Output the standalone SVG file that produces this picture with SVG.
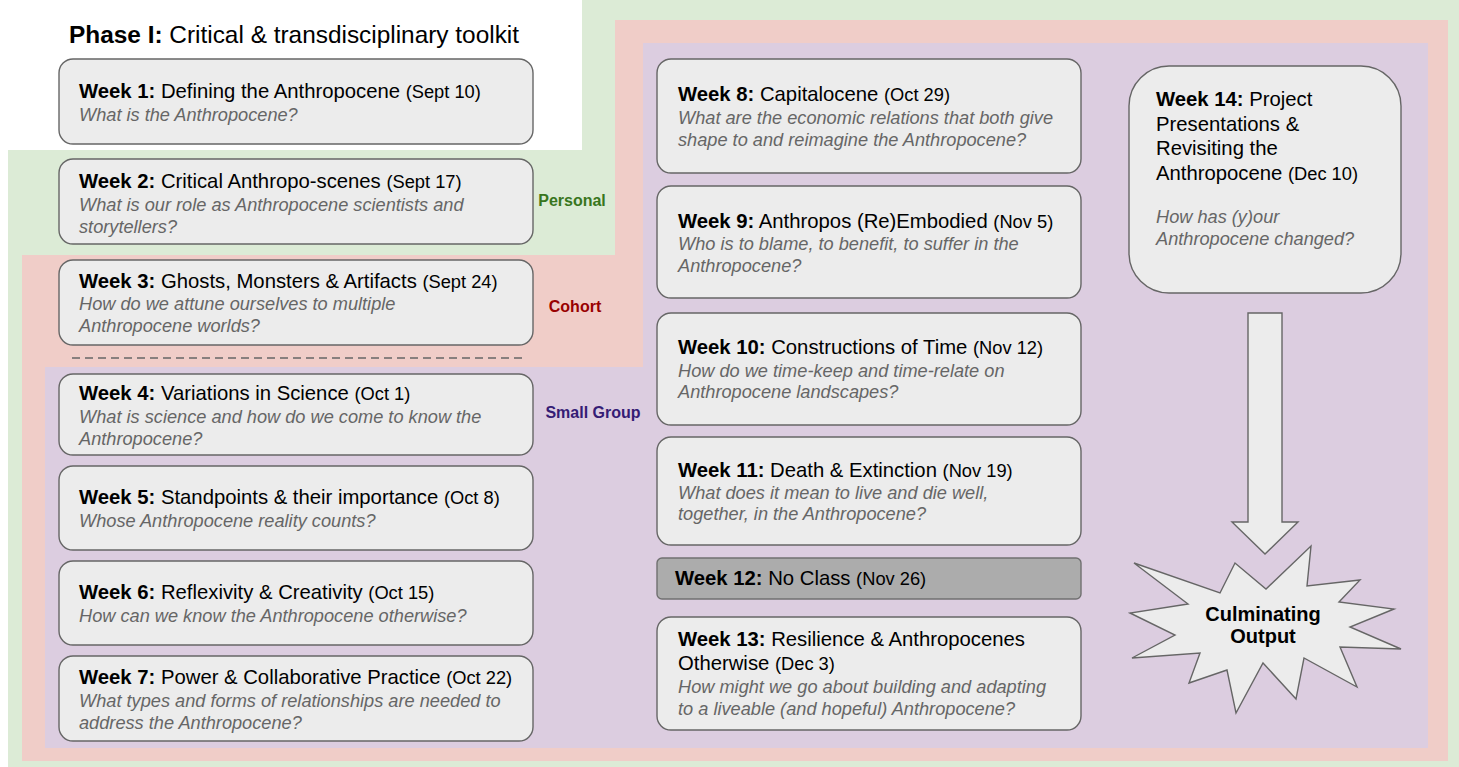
<svg xmlns="http://www.w3.org/2000/svg" width="1459" height="767" viewBox="0 0 1459 767">
<style>
text{font-family:"Liberation Sans",Arial,sans-serif;}
.box{fill:#ececec;stroke:#666;stroke-width:1.4;}
.gray{fill:#acacac;stroke:#707070;stroke-width:1.4;}
.t{font-size:20.3px;fill:#000;}
.b{font-weight:bold;}
.d{font-size:18.3px;}
.q{font-size:18.2px;font-style:italic;fill:#666;}
.lab{font-size:16px;font-weight:bold;text-anchor:middle;}
</style>
<rect width="1459" height="767" fill="#fff"/>
<g id="backgrounds">
<path d="M582,0 H1459 V767 H8 V150 H582 Z" fill="#dcebd6"/>
<path d="M615,20 H1448 V761 H22 V255 H615 Z" fill="#f0cdc8"/>
<path d="M643,43 H1428 V748 H45 V367 H643 Z" fill="#dccde0"/>
</g>
<text x="69" y="43" style="font-size:24.4px">
<tspan class="b">Phase I:</tspan> Critical &amp; transdisciplinary toolkit</text>
<g id="labels">
<text class="lab" x="572" y="206" fill="#38761d">Personal</text>
<text class="lab" x="575" y="312" fill="#990000">Cohort</text>
<text class="lab" x="593" y="418" fill="#351c75">Small Group</text>
</g>
<g id="connectors">
<path d="M72,358 H522" stroke="#666" stroke-width="1.5" stroke-dasharray="8,5" fill="none"/>
<polygon points="1248,313 1282,313 1282,522 1298,522 1265,554 1232,522 1248,522" fill="#ececec" stroke="#666" stroke-width="1.4"/>
</g>
<g id="week1">
<rect class="box" x="59" y="59" width="474" height="85" rx="14"/>
<text class="t" x="79" y="98"><tspan class="b">Week 1:</tspan> Defining the Anthropocene <tspan class="d">(Sept 10)</tspan></text>
<text class="q" x="79" y="121">What is the Anthropocene?</text>
</g>
<g id="week2">
<rect class="box" x="59" y="159" width="474" height="85" rx="14"/>
<text class="t" x="79" y="188"><tspan class="b">Week 2:</tspan> Critical Anthropo-scenes <tspan class="d">(Sept 17)</tspan></text>
<text class="q" x="79" y="211">What is our role as Anthropocene scientists and</text>
<text class="q" x="79" y="233">storytellers?</text>
</g>
<g id="week3">
<rect class="box" x="59" y="260" width="474" height="85" rx="14"/>
<text class="t" x="79" y="288"><tspan class="b">Week 3:</tspan> Ghosts, Monsters &amp; Artifacts <tspan class="d">(Sept 24)</tspan></text>
<text class="q" x="79" y="310">How do we attune ourselves to multiple</text>
<text class="q" x="79" y="332">Anthropocene worlds?</text>
</g>
<g id="week4">
<rect class="box" x="59" y="374" width="474" height="81" rx="14"/>
<text class="t" x="79" y="400"><tspan class="b">Week 4:</tspan> Variations in Science <tspan class="d">(Oct 1)</tspan></text>
<text class="q" x="79" y="423">What is science and how do we come to know the</text>
<text class="q" x="79" y="445">Anthropocene?</text>
</g>
<g id="week5">
<rect class="box" x="59" y="466" width="474" height="84" rx="14"/>
<text class="t" x="79" y="504"><tspan class="b">Week 5:</tspan> Standpoints &amp; their importance <tspan class="d">(Oct 8)</tspan></text>
<text class="q" x="79" y="527">Whose Anthropocene reality counts?</text>
</g>
<g id="week6">
<rect class="box" x="59" y="561" width="474" height="84" rx="14"/>
<text class="t" x="79" y="599"><tspan class="b">Week 6:</tspan> Reflexivity &amp; Creativity <tspan class="d">(Oct 15)</tspan></text>
<text class="q" x="79" y="622">How can we know the Anthropocene otherwise?</text>
</g>
<g id="week7">
<rect class="box" x="59" y="656" width="474" height="85" rx="14"/>
<text class="t" x="79" y="684"><tspan class="b">Week 7:</tspan> Power &amp; Collaborative Practice <tspan class="d">(Oct 22)</tspan></text>
<text class="q" x="79" y="707">What types and forms of relationships are needed to</text>
<text class="q" x="79" y="729">address the Anthropocene?</text>
</g>
<g id="week8">
<rect class="box" x="657" y="59" width="424" height="114" rx="14"/>
<text class="t" x="678" y="101"><tspan class="b">Week 8:</tspan> Capitalocene <tspan class="d">(Oct 29)</tspan></text>
<text class="q" x="678" y="124">What are the economic relations that both give</text>
<text class="q" x="678" y="146">shape to and reimagine the Anthropocene?</text>
</g>
<g id="week9">
<rect class="box" x="657" y="186" width="424" height="112" rx="14"/>
<text class="t" x="678" y="228"><tspan class="b">Week 9:</tspan> Anthropos (Re)Embodied <tspan class="d">(Nov 5)</tspan></text>
<text class="q" x="678" y="250">Who is to blame, to benefit, to suffer in the</text>
<text class="q" x="678" y="272">Anthropocene?</text>
</g>
<g id="week10">
<rect class="box" x="657" y="313" width="424" height="112" rx="14"/>
<text class="t" x="678" y="354"><tspan class="b">Week 10:</tspan> Constructions of Time <tspan class="d">(Nov 12)</tspan></text>
<text class="q" x="678" y="377">How do we time-keep and time-relate on</text>
<text class="q" x="678" y="398">Anthropocene landscapes?</text>
</g>
<g id="week11">
<rect class="box" x="657" y="437" width="424" height="108" rx="14"/>
<text class="t" x="678" y="477"><tspan class="b">Week 11:</tspan> Death &amp; Extinction <tspan class="d">(Nov 19)</tspan></text>
<text class="q" x="678" y="499">What does it mean to live and die well,</text>
<text class="q" x="678" y="520">together, in the Anthropocene?</text>
</g>
<g id="week12">
<rect class="gray" x="657" y="558" width="424" height="41" rx="5"/>
<text class="t" x="675" y="585"><tspan class="b">Week 12:</tspan> No Class <tspan class="d">(Nov 26)</tspan></text>
</g>
<g id="week13">
<rect class="box" x="657" y="617" width="424" height="113" rx="14"/>
<text class="t" x="678" y="646"><tspan class="b">Week 13:</tspan> Resilience &amp; Anthropocenes</text>
<text class="t" x="678" y="670">Otherwise <tspan class="d">(Dec 3)</tspan></text>
<text class="q" x="678" y="693">How might we go about building and adapting</text>
<text class="q" x="678" y="715">to a liveable (and hopeful) Anthropocene?</text>
</g>
<g id="week14">
<rect class="box" x="1129" y="66" width="272" height="227" rx="40"/>
<text class="t" x="1156" y="106"><tspan class="b">Week 14:</tspan> Project</text>
<text class="t" x="1156" y="131">Presentations &amp;</text>
<text class="t" x="1156" y="155">Revisiting the</text>
<text class="t" x="1156" y="180">Anthropocene <tspan class="d">(Dec 10)</tspan></text>
<text class="q" x="1156" y="223">How has (y)our</text>
<text class="q" x="1156" y="245">Anthropocene changed?</text>
</g>
<g id="output">
<polygon points="1134,563 1220,593 1235,563 1266,589 1311,546 1307,586 1360,580 1339,602 1394,609 1350,627 1401,649 1340,647 1357,687 1304,658 1296,699 1263,663 1236,713 1227,670 1189,683 1200,653 1132,658 1175,635 1130,613 1188,604" fill="#ececec" stroke="#666" stroke-width="1.4"/>
<text x="1263" y="621" style="font-size:20px;font-weight:bold;text-anchor:middle">Culminating</text>
<text x="1263" y="643" style="font-size:20px;font-weight:bold;text-anchor:middle">Output</text>
</g>
</svg>
